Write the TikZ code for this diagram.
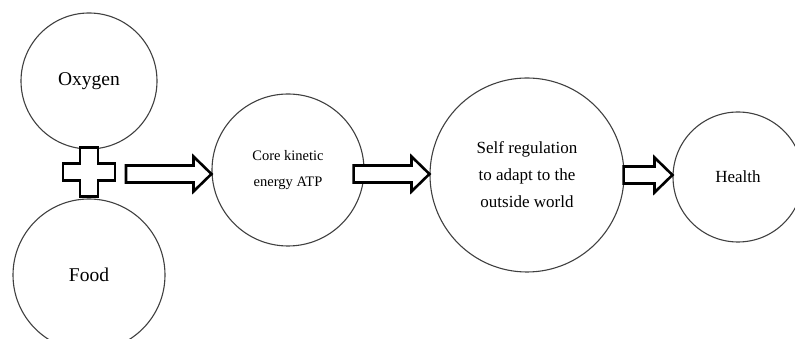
\documentclass[tikz,border=0pt]{standalone}
\usepackage{fontspec}
\setmainfont{Liberation Serif}
\usetikzlibrary{calc}

% hollow block arrow from #1 to the x of #2
\newcommand{\hollowarrow}[2]{%
  \draw[barrow] let \p1=(#1), \p2=(#2) in
    (\x1,\y1+8.5pt) -- (\x2-18pt,\y1+8.5pt) -- (\x2-18pt,\y1+17.5pt) -- (\x2,\y1)
    -- (\x2-18pt,\y1-17.5pt) -- (\x2-18pt,\y1-8.5pt) -- (\x1,\y1-8.5pt) -- cycle;}

\begin{document}
\begin{tikzpicture}[x=1pt, y=1pt,
                    bubble/.style={circle, draw=black!75, line width=1.1pt, inner sep=0pt, align=center},
                    barrow/.style={draw=black, line width=2.6pt, fill=white, line join=miter}]
\useasboundingbox (0,0) rectangle (795,339);

\node[bubble, minimum size=136pt, font=\fontsize{19.5}{22}\selectfont] (oxygen) at (89,258) {Oxygen};
\node[bubble, minimum size=152pt, font=\fontsize{19.5}{22}\selectfont] (food) at (89,64) {Food};
\node[bubble, minimum size=152pt, font=\fontsize{14.5}{26}\selectfont] (core) at (288,169) {Core kinetic\\energy ATP};
\node[bubble, minimum size=194pt, font=\fontsize{17}{27}\selectfont] (self) at (527,164) {Self regulation\\to adapt to the\\outside world};
\node[bubble, minimum size=130pt, font=\fontsize{17}{20}\selectfont] (health) at (738,162) {Health};

% plus sign
\coordinate (plus) at (89,167);
\draw[barrow] ($(plus)+(-9,24.5)$) -- ++(18,0) -- ++(0,-16) -- ++(17,0) -- ++(0,-17)
    -- ++(-17,0) -- ++(0,-16) -- ++(-18,0) -- ++(0,16) -- ++(-17,0) -- ++(0,17)
    -- ++(17,0) -- cycle;

\coordinate (a1) at (126,165);
\coordinate (a2) at ($(core.east)+(-11,-4)$);
\coordinate (a3) at ($(self.east)+(-1,0)$);

\hollowarrow{a1}{core.west}
\hollowarrow{a2}{self.west}
\hollowarrow{a3}{health.west}
\end{tikzpicture}
\end{document}
